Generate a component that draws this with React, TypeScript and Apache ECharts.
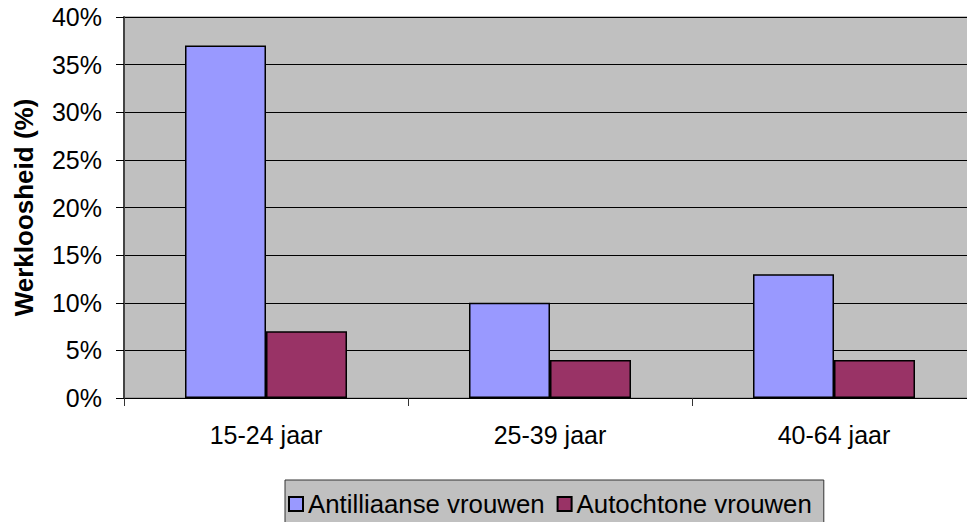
import React, { useEffect, useRef } from "react";
import * as echarts from "echarts";

const categories = ["15-24 jaar", "25-39 jaar", "40-64 jaar"];
const antilliaans = [37, 10, 13];
const autochtoon = [7, 4, 4];
const seriesNames = ["Antilliaanse vrouwen", "Autochtone vrouwen"];
const yTicks = { min: 0, max: 40, interval: 5 };

const FONT = "'Liberation Sans', Arial, Helvetica, sans-serif";

export default function App() {
  const ref = useRef<HTMLDivElement>(null);
  useEffect(() => {
    document.body.style.margin = "0";
    const chart = echarts.init(ref.current!, null, { renderer: "svg" });
    chart.setOption({
      animation: false,
      backgroundColor: "#ffffff",
      textStyle: { fontFamily: FONT },
      grid: {
        left: 124,
        top: 17,
        width: 852,
        height: 381,
        containLabel: false,
        outerBoundsMode: "none",
        show: true,
        backgroundColor: "#C0C0C0",
        borderColor: "#808080",
        borderWidth: 1,
      },
      legend: {
        left: 285,
        top: 480,
        padding: [9, 12, 20, 3],
        itemWidth: 14,
        itemHeight: 14,
        itemGap: 12,
        icon: "rect",
        backgroundColor: "#C0C0C0",
        borderColor: "#333333",
        borderWidth: 1,
        borderRadius: 0,
        textStyle: { fontFamily: FONT, fontSize: 25.8, color: "#000", lineHeight: 30 },
        data: seriesNames,
      },
      xAxis: {
        type: "category",
        data: categories,
        axisLine: { show: true, lineStyle: { color: "#000", width: 1 } },
        axisTick: { show: true, interval: 0, length: 8, lineStyle: { color: "#333" } },
        axisLabel: { fontFamily: FONT, fontSize: 25, color: "#000", margin: 24, interval: 0 },
        splitLine: { show: false },
      },
      yAxis: {
        type: "value",
        min: yTicks.min,
        max: yTicks.max,
        interval: yTicks.interval,
        name: "Werkloosheid (%)",
        nameLocation: "middle",
        nameRotate: 90,
        nameGap: 87,
        nameTextStyle: { fontFamily: FONT, fontSize: 26, fontWeight: "bold", color: "#000" },
        axisLine: { show: true, lineStyle: { color: "#444", width: 2 } },
        axisTick: { show: true, length: 8, lineStyle: { color: "#000" } },
        axisLabel: {
          fontFamily: FONT,
          fontSize: 25,
          color: "#000",
          margin: 22,
          formatter: (v: number) => v + "%",
        },
        splitLine: { show: true, lineStyle: { color: "#000", width: 1 } },
      },
      series: [
        {
          name: seriesNames[0],
          type: "bar",
          data: antilliaans,
          barWidth: 81,
          barGap: "0%",
          itemStyle: { color: "#9999FF", borderColor: "#000", borderWidth: 1.5 },
        },
        {
          name: seriesNames[1],
          type: "bar",
          data: autochtoon,
          barWidth: 81,
          barGap: "0%",
          itemStyle: { color: "#993366", borderColor: "#000", borderWidth: 1.5 },
        },
      ],
    });
    return () => chart.dispose();
  }, []);
  return <div ref={ref} style={{ width: 967, height: 522 }} />;
}
